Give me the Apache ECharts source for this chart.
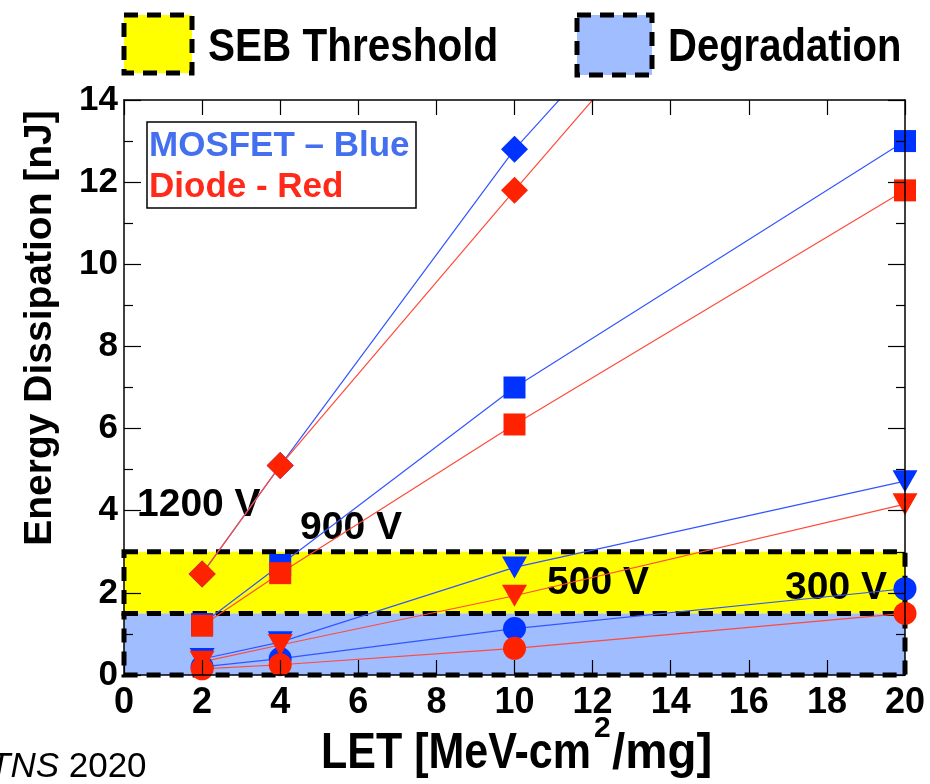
<!DOCTYPE html>
<html>
<head>
<meta charset="utf-8">
<script src="https://cdn.jsdelivr.net/npm/echarts@6/dist/echarts.min.js"></script>
<style>
html,body{margin:0;padding:0;background:#fff;}
#c{width:930px;height:784px;}
</style>
</head>
<body>
<div id="c"></div>
<script>
// ---- data ----
const letValues = [2, 4, 10, 20];
const mosfet1200 = [2.46, 5.1, 12.8, 23.3];
const diode1200 = [2.46, 5.1, 11.8, 22.8];
const mosfet900 = [1.24, 2.68, 7.0, 13.0];
const diode900 = [1.2, 2.48, 6.1, 11.8];
const mosfet500 = [0.39, 0.8, 2.62, 4.72];
const diode500 = [0.32, 0.73, 1.93, 4.16];
const mosfet300 = [0.2, 0.4, 1.13, 2.1];
const diode300 = [0.15, 0.25, 0.65, 1.5];
const sebBand = [1.5, 3.0];
const degradationBand = [0, 1.5];
const letRange = [0, 20];
const voltageLabels = ['1200 V', '900 V', '500 V', '300 V'];

const FONT = "'Liberation Sans', Arial, Helvetica, sans-serif";
const BLUE = '#0033ff', RED = '#ff2200';
const BLUE_LINE = '#3355ff', RED_LINE = '#ff4a3a';
const YELLOW = '#ffff00', LIGHTBLUE = '#a0bdff';

function pts(ys) { return letValues.map((x, i) => [x, ys[i]]); }

function mk(name, ys, isBlue, symbol, size, rotate) {
  return {
    name: name, type: 'line', data: pts(ys), z: 3,
    symbol: symbol, symbolSize: size, symbolRotate: rotate || 0,
    clip: true, showSymbol: true,
    lineStyle: { color: isBlue ? BLUE_LINE : RED_LINE, width: 1.2 },
    itemStyle: { color: isBlue ? BLUE : RED, borderWidth: 0 },
    emphasis: { disabled: true }
  };
}

const bands = [
  [letRange[0], letRange[1], sebBand[0], sebBand[1], YELLOW],
  [letRange[0], letRange[1], degradationBand[0], degradationBand[1], LIGHTBLUE]
];

const chart = echarts.init(document.getElementById('c'), null, { renderer: 'canvas' });

const axisLine = { show: true, onZero: false, lineStyle: { color: '#000', width: 1.5 } };
const tickStyle = { color: '#000', width: 1.2 };

function annot(txt, x, y) {
  return { type: 'text', z: 1, x: x, y: y,
    style: { text: txt, font: 'bold 39px ' + FONT, fill: '#000', textAlign: 'left', textVerticalAlign: 'middle' } };
}

const option = {
  animation: false,
  backgroundColor: '#fff',
  grid: { left: 124, right: 25, top: 100, bottom: 109, containLabel: false },
  xAxis: [
    {
      type: 'value', min: 0, max: 20, interval: 2, position: 'bottom', z: 10,
      axisLine: axisLine,
      axisTick: { show: true, inside: true, length: 15, lineStyle: tickStyle },
      axisLabel: { show: true, margin: 10, color: '#000', fontSize: 36, fontWeight: 'bold', fontFamily: FONT },
      splitLine: { show: false }
    },
    {
      type: 'value', min: 0, max: 20, interval: 2, position: 'top', z: 10,
      axisLine: axisLine,
      axisTick: { show: true, inside: true, length: 15, lineStyle: tickStyle },
      axisLabel: { show: false },
      splitLine: { show: false }
    }
  ],
  yAxis: [
    {
      type: 'value', min: 0, max: 14, interval: 2, position: 'left', z: 10,
      axisLine: axisLine,
      axisTick: { show: true, inside: true, length: 17, lineStyle: tickStyle },
      minorTick: { show: true, splitNumber: 2, length: 9, lineStyle: tickStyle },
      axisLabel: { show: true, margin: 6, color: '#000', fontSize: 35, fontWeight: 'bold', fontFamily: FONT },
      splitLine: { show: false }, minorSplitLine: { show: false }
    },
    {
      type: 'value', min: 0, max: 14, interval: 2, position: 'right', z: 10,
      axisLine: axisLine,
      axisTick: { show: true, inside: true, length: 17, lineStyle: tickStyle },
      minorTick: { show: true, splitNumber: 2, length: 9, lineStyle: tickStyle },
      axisLabel: { show: false },
      splitLine: { show: false }, minorSplitLine: { show: false }
    }
  ],
  series: [
    {
      type: 'custom', z: 0, silent: true, clip: false,
      data: bands,
      renderItem: function (params, api) {
        const p0 = api.coord([api.value(0), api.value(3)]);
        const p1 = api.coord([api.value(1), api.value(2)]);
        return {
          type: 'rect',
          shape: { x: p0[0], y: p0[1], width: p1[0] - p0[0], height: p1[1] - p0[1] },
          style: { fill: bands[params.dataIndex][4], stroke: '#000', lineWidth: 5, lineDash: [14, 9] }
        };
      }
    },
    mk('MOSFET 1200 V', mosfet1200, true, 'diamond', 27),
    mk('MOSFET 900 V', mosfet900, true, 'rect', 22),
    mk('MOSFET 500 V', mosfet500, true, 'triangle', [25, 22], 180),
    mk('MOSFET 300 V', mosfet300, true, 'circle', 23),
    mk('Diode 1200 V', diode1200, false, 'diamond', 27),
    mk('Diode 900 V', diode900, false, 'rect', 22),
    mk('Diode 500 V', diode500, false, 'triangle', [25, 22], 180),
    mk('Diode 300 V', diode300, false, 'circle', 23)
  ],
  graphic: [
    // top legend
    { type: 'rect', z: 20, shape: { x: 124, y: 15, width: 68, height: 58 },
      style: { fill: YELLOW, stroke: '#000', lineWidth: 5, lineDash: [14, 9] } },
    { type: 'text', z: 20, x: 208, y: 48, scaleX: 0.88,
      style: { text: 'SEB Threshold', font: 'bold 46px ' + FONT, fill: '#000', textAlign: 'left', textVerticalAlign: 'middle' } },
    { type: 'rect', z: 20, shape: { x: 577, y: 15, width: 75, height: 60 },
      style: { fill: LIGHTBLUE, stroke: '#000', lineWidth: 5, lineDash: [14, 9] } },
    { type: 'text', z: 20, x: 668, y: 48, scaleX: 0.87,
      style: { text: 'Degradation', font: 'bold 46px ' + FONT, fill: '#000', textAlign: 'left', textVerticalAlign: 'middle' } },
    // inner key box
    { type: 'rect', z: 20, shape: { x: 147, y: 122, width: 269, height: 86 },
      style: { fill: '#fff', stroke: '#000', lineWidth: 1.5 } },
    { type: 'text', z: 21, x: 149, y: 146,
      style: { text: 'MOSFET \u2013 Blue', font: 'bold 35px ' + FONT, fill: '#4470f0', textAlign: 'left', textVerticalAlign: 'middle' } },
    { type: 'text', z: 21, x: 149, y: 187,
      style: { text: 'Diode - Red', font: 'bold 35px ' + FONT, fill: '#ff2a1a', textAlign: 'left', textVerticalAlign: 'middle' } },
    // voltage annotations
    annot(voltageLabels[0], 137, 505),
    annot(voltageLabels[1], 300, 528),
    annot(voltageLabels[2], 547, 583),
    annot(voltageLabels[3], 785, 588),
    // y axis title
    { type: 'text', z: 20, x: 40, y: 328, rotation: Math.PI / 2,
      style: { text: 'Energy Dissipation [nJ]', font: 'bold 39px ' + FONT, fill: '#000', textAlign: 'center', textVerticalAlign: 'middle' } },
    // x axis title
    { type: 'text', z: 20, x: 591, y: 754, scaleX: 0.86,
      style: { text: 'LET [MeV-cm', font: 'bold 50px ' + FONT, fill: '#000', textAlign: 'right', textVerticalAlign: 'middle' } },
    { type: 'text', z: 20, x: 594, y: 729,
      style: { text: '2', font: 'bold 30px ' + FONT, fill: '#000', textAlign: 'left', textVerticalAlign: 'middle' } },
    { type: 'text', z: 20, x: 612, y: 754, scaleX: 0.95,
      style: { text: '/mg]', font: 'bold 50px ' + FONT, fill: '#000', textAlign: 'left', textVerticalAlign: 'middle' } },
    // citation
    { type: 'text', z: 20, x: -11, y: 767,
      style: { text: '{i|TNS}{n| 2020}', textAlign: 'left', textVerticalAlign: 'middle',
        rich: { i: { font: 'italic 35px ' + FONT, fill: '#000' }, n: { font: '35px ' + FONT, fill: '#000' } } } }
  ]
};

chart.setOption(option);
</script>
</body>
</html>
